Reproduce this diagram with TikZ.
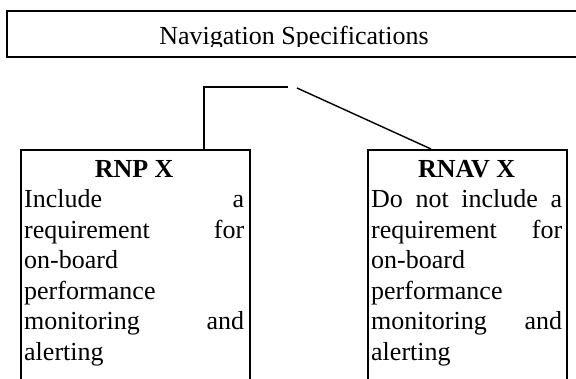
\documentclass[tikz,border=0pt]{standalone}
\usepackage{fontspec}
\setmainfont{Liberation Serif}
\begin{document}
\begin{tikzpicture}[x=1pt,y=-1pt,
  frame/.style={draw=black, line width=1.5pt, rectangle, inner sep=0pt},
  link/.style={draw=black, line width=1.4pt},
  body/.style={anchor=base west, inner sep=0pt,
    font=\fontsize{26}{30.5}\selectfont}
]
\useasboundingbox (0,0) rectangle (576,378);
\clip (0,0) rectangle (576,378);
% top box
\node[frame, line width=2pt, anchor=north west, minimum width=584pt, minimum height=46pt] (nav) at (6,10) {};
\begin{scope}
  \clip (6,12) rectangle (580,46.5);
  \node[anchor=base, inner sep=0pt, font=\fontsize{26}{30}\selectfont] (navtext) at (294,44.5) {Navigation Specifications};
\end{scope}
% lower boxes
\node[frame, anchor=north west, minimum width=229pt, minimum height=260pt] (rnp) at (20,149) {};
\node[frame, anchor=north west, minimum width=199pt, minimum height=260pt] (rnav) at (367,149) {};
\node[body, text width=220pt] (rnptext) at (24,177) {\spaceskip=0pt\xspaceskip=0pt\noindent
  \makebox[220pt][c]{\textbf{RNP X}}\\
  \makebox[220pt][s]{Include a}\\
  \makebox[220pt][s]{requirement for}\\
  \makebox[220pt][l]{on-board}\\
  \makebox[220pt][l]{performance}\\
  \makebox[220pt][s]{monitoring and}\\
  \makebox[220pt][l]{alerting}};
\node[body, text width=191pt] (rnavtext) at (371,177) {\spaceskip=0pt\xspaceskip=0pt\noindent
  \makebox[191pt][c]{\textbf{RNAV X}}\\
  \makebox[191pt][s]{Do not include a}\\
  \makebox[191pt][s]{requirement for}\\
  \makebox[191pt][l]{on-board}\\
  \makebox[191pt][l]{performance}\\
  \makebox[191pt][s]{monitoring and}\\
  \makebox[191pt][l]{alerting}};
% connectors
\coordinate (jl) at (204,87);
\coordinate (jr) at (288,87);
\coordinate (ds) at (297,88);
\coordinate (de) at (431,149);
\draw[link] (jr) -- (jl) -- (jl |- rnp.north);
\draw[link] (ds) -- (de |- rnav.north);
\end{tikzpicture}
\end{document}
